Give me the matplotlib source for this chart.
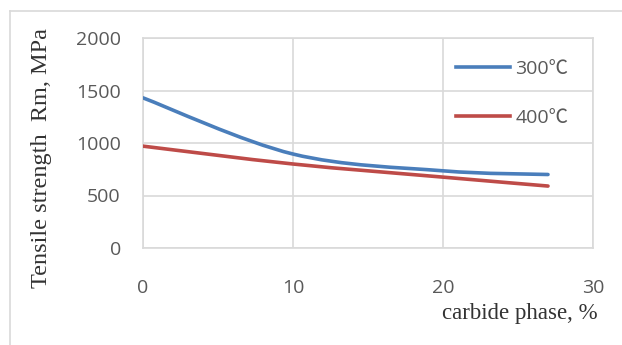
import matplotlib

matplotlib.use('Agg')
import matplotlib.pyplot as plt
from matplotlib.path import Path
from matplotlib.patches import PathPatch
from matplotlib.lines import Line2D
import numpy as np

# --- data ---
carbide = [0, 10, 20, 27]
rm_300 = [1430, 895, 735, 700]
rm_400 = [970, 800, 675, 590]
series_names = ['300\u2103', '400\u2103']
series_colors = ['#4a7ebb', '#be4b48']
x_ticks = [0, 10, 20, 30]
y_ticks = [0, 500, 1000, 1500, 2000]


def smooth_path(xs, ys):
    # Excel-like smoothed line: cubic bezier through the points
    pts = np.column_stack([xs, ys]).astype(float)
    n = len(pts)
    verts = [pts[0]]
    codes = [Path.MOVETO]
    for i in range(n - 1):
        p_prev = pts[i - 1] if i > 0 else pts[i]
        p_next2 = pts[i + 2] if i + 2 < n else pts[i + 1]
        c1 = pts[i] + (pts[i + 1] - p_prev) / 6.0
        c2 = pts[i + 1] - (p_next2 - pts[i]) / 6.0
        verts += [c1, c2, pts[i + 1]]
        codes += [Path.CURVE4] * 3
    return Path(verts, codes)


grid_c = '#d9d9d9'
text_c = '#595959'
sans = ['Open Sans', 'Noto Sans CJK SC', 'DejaVu Sans']
serif = ['Liberation Serif', 'DejaVu Serif']

fig = plt.figure(figsize=(6.22, 3.45), dpi=100)
ax = fig.add_axes([143 / 622, 1 - 248 / 345, 450 / 622, 210 / 345])

for ys, col in zip([rm_300, rm_400], series_colors):
    ax.add_patch(PathPatch(smooth_path(carbide, ys), facecolor='none',
                           edgecolor=col, lw=2.6, capstyle='round', zorder=3))

ax.set_xlim(0, 30)
ax.set_ylim(0, 2000)
ax.set_xticks(x_ticks)
ax.set_yticks(y_ticks)
ax.grid(True, color=grid_c, lw=1.2)
ax.set_axisbelow(True)
for s in ax.spines.values():
    s.set_color(grid_c)
    s.set_linewidth(1.2)
ax.tick_params(length=0, labelsize=14, labelcolor=text_c)
ax.tick_params(axis='y', pad=16)
ax.tick_params(axis='x', pad=22)
for lab in ax.get_xticklabels() + ax.get_yticklabels():
    lab.set_family(sans)

fig.text(42 / 622, 1 - 158 / 345, 'Tensile strength  Rm, MPa', family=serif,
         fontsize=17.5, color='#333333', rotation=90, va='center', ha='center')
fig.text(442 / 622, 1 - 313 / 345, 'carbide phase, %', family=serif,
         fontsize=16.5, color='#333333', va='center', ha='left')

handles = [Line2D([], [], color=c, lw=2.6) for c in series_colors]
leg = ax.legend(handles, series_names, loc='upper left',
                bbox_to_anchor=((456 - 143) / 450, (248 - 60) / 210), frameon=False,
                borderpad=0, borderaxespad=0,
                prop={'family': sans, 'size': 14}, handlelength=2.8,
                handletextpad=0.25, labelspacing=1.6, labelcolor=text_c)

# outer chart border (top and left visible)
fig.add_artist(Line2D([10 / 622, 1], [1 - 11 / 345] * 2, color=grid_c, lw=1.2))
fig.add_artist(Line2D([10 / 622] * 2, [0, 1 - 11 / 345], color=grid_c, lw=1.2))

fig.savefig('out.png', dpi=100)
plt.close(fig)
